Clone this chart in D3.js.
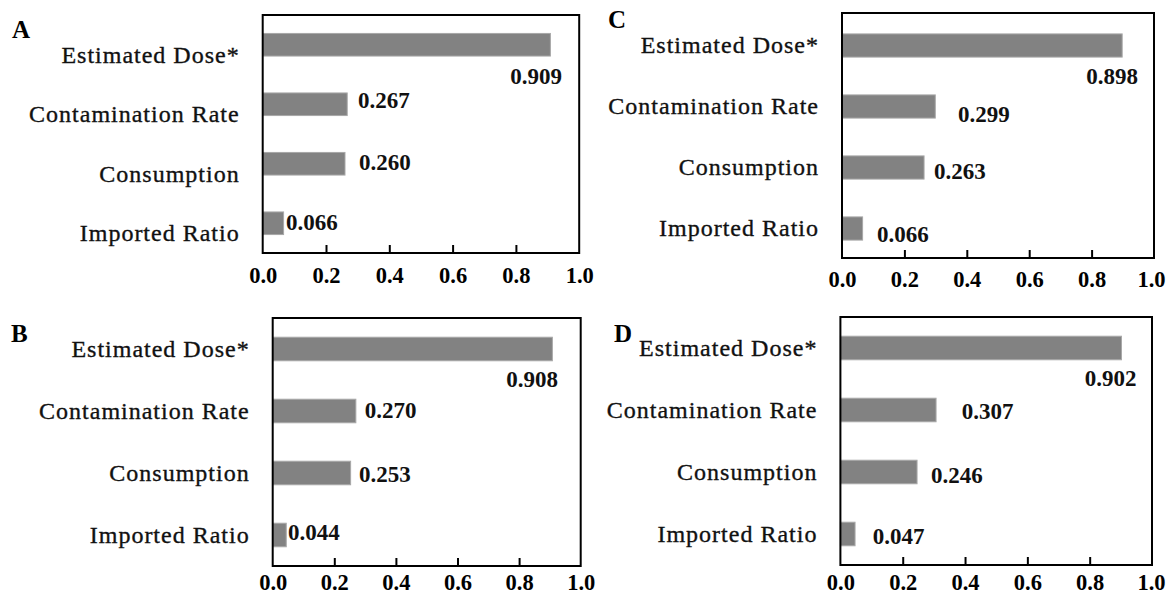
<!DOCTYPE html>
<html>
<head>
<meta charset="utf-8">
<script src="https://cdn.jsdelivr.net/npm/d3@7"></script>
<style>
  body { margin: 0; background: #ffffff; }
  svg { display: block; }
</style>
</head>
<body>
<svg id="chart" width="1167" height="600"></svg>
<script>
// Sensitivity of the estimated dose to each input, for four scenarios
const categories = ["Estimated Dose*", "Contamination Rate", "Consumption", "Imported Ratio"];
const panelNames = ["A", "B", "C", "D"];
const valuesA = [0.909, 0.267, 0.260, 0.066];
const valuesB = [0.908, 0.270, 0.253, 0.044];
const valuesC = [0.898, 0.299, 0.263, 0.066];
const valuesD = [0.902, 0.307, 0.246, 0.047];
const xTicks = [0.0, 0.2, 0.4, 0.6, 0.8, 1.0];

const seriesByPanel = { A: valuesA, B: valuesB, C: valuesC, D: valuesD };

// Panel placement on the page and hand-tuned nudges for the value labels
const layout = {
  A: { x0: 262.7, x1: 579.2, top: 15,  bottom: 253, band: [15, 253],  letter: [12, 38],
       catDy: 10, tickBase: 283, labelDx: [11.6, 10.8, 14, 2.4],  labelDy: [31.5, -4.5, -2, -1.5] },
  B: { x0: 272.7, x1: 580.7, top: 318, bottom: 566, band: [318, 566], letter: [11, 342],
       catDy: 0, tickBase: 590, labelDx: [5.6, 9, 8.4, 1.7],      labelDy: [30.5, -1, 1.5, -2.5] },
  C: { x0: 842,   x1: 1154,  top: 13,  bottom: 258, band: [15, 259],  letter: [608, 28],
       catDy: 0, tickBase: 287, labelDx: [15.8, 22.7, 10, 14.4],  labelDy: [30.5, 8, 3.5, 6] },
  D: { x0: 840.4, x1: 1152,  top: 317, bottom: 565, band: [317, 565], letter: [614, 342],
       catDy: 0, tickBase: 590, labelDx: [15, 25.6, 14, 17.7],    labelDy: [30, 1, 3, 2.3] }
};

const FONT = "'Liberation Serif', 'Times New Roman', serif";
const barFill = "#828282";
const barEdge = "#a8a8a8";
const catSize = 24, valSize = 23, tickSize = 22.5, letterSize = 25;
const pageWidth = 1167;

const svg = d3.select("#chart");
const fmt = d3.format(".3f");
const tickFmt = d3.format(".1f");

panelNames.forEach(name => {
  const L = layout[name];
  const values = seriesByPanel[name];
  const data = categories.map((c, i) => ({ cat: c, value: values[i], i }));

  const x = d3.scaleLinear().domain([0, 1]).range([L.x0, L.x1]);
  const y = d3.scaleBand().domain(categories).range(L.band)
    .paddingInner(0.62).paddingOuter(0.31);

  const g = svg.append("g").attr("class", "panel panel-" + name);

  // bars
  g.selectAll("rect.bar").data(data).join("rect")
    .attr("class", "bar")
    .attr("x", x(0))
    .attr("y", d => y(d.cat))
    .attr("width", d => x(d.value) - x(0))
    .attr("height", y.bandwidth())
    .attr("fill", barFill)
    .attr("stroke", barEdge)
    .attr("stroke-width", 1);

  // frame
  g.append("rect")
    .attr("x", x(0)).attr("y", L.top)
    .attr("width", x(1) - x(0)).attr("height", L.bottom - L.top)
    .attr("fill", "none").attr("stroke", "#000").attr("stroke-width", 2);

  // x axis with inward ticks
  const axis = d3.axisBottom(x).tickValues(xTicks).tickFormat(tickFmt)
    .tickSizeInner(-8).tickSizeOuter(0).tickPadding(0);
  const ax = g.append("g").attr("transform", `translate(0,${L.bottom})`).call(axis);
  ax.select(".domain").remove();
  ax.selectAll(".tick line")
    .attr("stroke", "#000").attr("stroke-width", 2)
    .attr("display", d => (d === 0 || d === 1) ? "none" : null);
  ax.selectAll(".tick text")
    .attr("y", L.tickBase - L.bottom).attr("dy", null)
    .attr("fill", "#000")
    .style("font-family", FONT).style("font-size", tickSize + "px").style("font-weight", "bold");

  // keep the last tick label inside the page
  ax.selectAll(".tick text").each(function () {
    const box = this.getBoundingClientRect();
    const over = box.right - (pageWidth - 1.5);
    if (over > 0) d3.select(this).attr("x", -over);
  });

  // category labels
  g.selectAll("text.cat").data(data).join("text")
    .attr("class", "cat")
    .attr("x", x(0) - 24 + 1)
    .attr("y", d => y(d.cat) + y.bandwidth() / 2 + L.catDy + 0.33 * catSize)
    .attr("text-anchor", "end")
    .style("font-family", FONT).style("font-size", catSize + "px")
    .style("letter-spacing", "1px")
    .attr("fill", "#111").attr("stroke", "#111").attr("stroke-width", 0.35)
    .text(d => d.cat);

  // value labels
  g.selectAll("text.val").data(data).join("text")
    .attr("class", "val")
    .attr("x", d => x(d.value) + L.labelDx[d.i])
    .attr("y", d => y(d.cat) + y.bandwidth() / 2 + L.labelDy[d.i] + 0.34 * valSize)
    .attr("text-anchor", d => d.i === 0 ? "end" : "start")
    .style("font-family", FONT).style("font-size", valSize + "px").style("font-weight", "bold")
    .attr("fill", "#111")
    .text(d => fmt(d.value));

  // panel letter
  g.append("text")
    .attr("x", L.letter[0]).attr("y", L.letter[1])
    .style("font-family", FONT).style("font-size", letterSize + "px").style("font-weight", "bold")
    .attr("fill", "#000")
    .text(name);
});
</script>
</body>
</html>
